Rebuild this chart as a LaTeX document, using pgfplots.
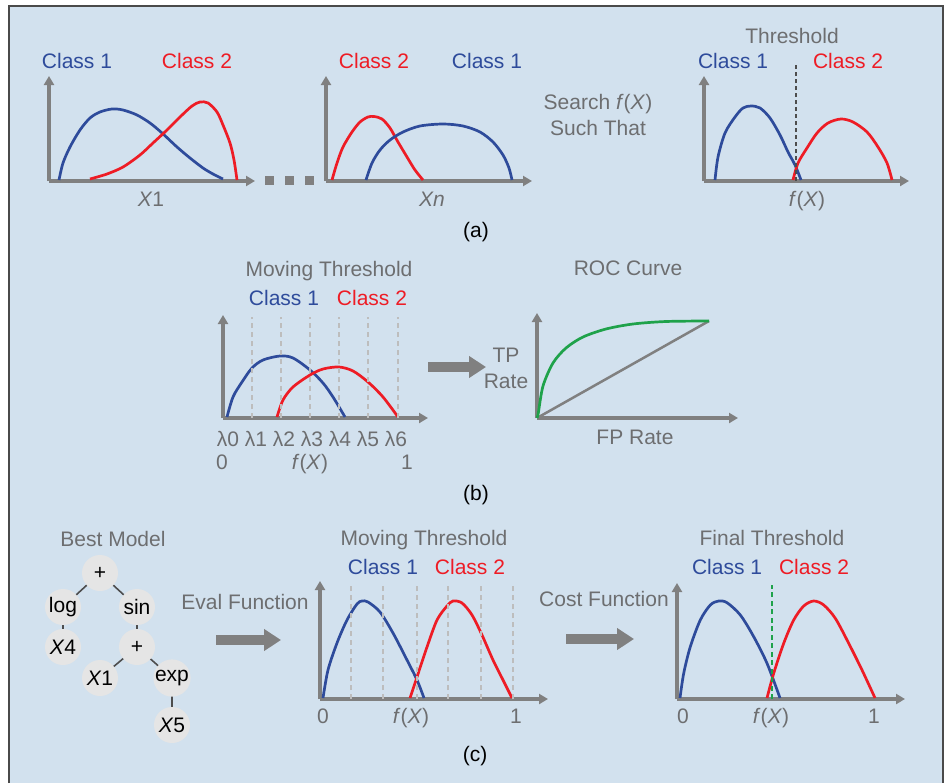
\documentclass[border=0pt]{standalone}
\usepackage{pgfplots}
\pgfplotsset{compat=1.18}
\usepackage{fontspec}
\setmainfont{Liberation Sans}
\usetikzlibrary{arrows.meta}
\definecolor{bgblue}{HTML}{D2E1EE}
\definecolor{bordergray}{HTML}{4A4A4A}
\definecolor{axgray}{HTML}{808080}
\definecolor{txtgray}{HTML}{6D6E70}
\definecolor{cblue}{HTML}{2E4B9B}
\definecolor{cred}{HTML}{EE1C25}
\definecolor{cgreen}{HTML}{1FA24A}
\definecolor{dashgray}{HTML}{BDBDBD}
\definecolor{thrgray}{HTML}{4D4D4D}
\definecolor{nodefill}{HTML}{E5E5E5}
\pgfplotsset{
  myax/.style={scale only axis, axis lines=left, xmin=0, ymin=0,
    xtick=\empty, ytick=\empty, clip=false, anchor=south west,
    axis line style={line width=4pt, axgray, -{Triangle[length=9pt,width=10pt]}}},
  bl/.style={cblue, line width=2.7pt, smooth, tension=0.5, no marks},
  rd/.style={cred, line width=2.7pt, smooth, tension=0.5, no marks},
  lgd/.style={dashgray, line width=2.6pt, dash pattern=on 5pt off 4pt, no marks},
}
\begin{document}
\begin{tikzpicture}[x=1pt,y=1pt,
  lbl/.style={inner sep=0pt, text height=15pt, text depth=0pt, font=\fontsize{21}{25}\selectfont},
  gl/.style={lbl, text=txtgray},
  bigarrow/.style={axgray, line width=10pt, -{Triangle[length=17pt,width=21pt]}}]
\fill[white] (0,0) rectangle (949,-783);
\fill[bgblue] (9,-6) rectangle (943,-783);
\draw[line width=1.6pt, bordergray] (9,-783) -- (9,-6) -- (943,-6) -- (943,-783);

% ---------------- (a) ----------------
\begin{axis}[myax, at={(49pt,-181pt)}, width=206pt, height=105pt, xmax=206, ymax=105]
\addplot[bl] coordinates {(10,1) (14,18) (21,34) (31,51) (41,63) (51,69) (63,72) (74,71) (88,66) (101,58) (113,48) (128,34) (141,23) (154,13) (164,7) (174,2)};
\addplot[rd] coordinates {(41,2) (58,7) (74,14) (91,26) (104,38) (118,51) (131,64) (143,75) (151,79) (159,78) (168,69) (174,56) (181,38) (185,21) (188,1)};
\end{axis}
\node[lbl, text=cblue] at (77,-61) {Class 1};
\node[lbl, text=cred] at (197,-61) {Class 2};
\node[gl] at (151,-199) {\textit{X}1};
\foreach \xx in {269,289,309} \fill[axgray] (\xx-4.5,-175.5) rectangle (\xx+4.5,-184.5);

\begin{axis}[myax, at={(326pt,-181pt)}, width=206pt, height=105pt, xmax=206, ymax=105]
\addplot[rd] coordinates {(6,1) (11,18) (17,34) (26,49) (34,59) (42,64) (48,64.5) (56,62) (64,53) (72,39) (81,24) (89,11) (97,1)};
\addplot[bl] coordinates {(40,1) (46,18) (54,31) (64,41) (77,49) (94,55) (117,57) (137,55) (154,49) (167,39) (177,26) (183,13) (186,1)};
\end{axis}
\node[lbl, text=cred] at (374,-61) {Class 2};
\node[lbl, text=cblue] at (487,-61) {Class 1};
\node[gl] at (432,-199) {\textit{Xn}};
\node[lbl] at (476,-230) {(a)};
\node[gl] at (598,-102) {Search \textit{f}(\textit{X})};
\node[gl] at (598,-128) {Such That};

\begin{axis}[myax, at={(704pt,-181pt)}, width=205pt, height=105pt, xmax=205, ymax=105]
\addplot[bl] coordinates {(11,1) (14,24) (21,48) (31,64) (39,73) (47,75) (56,73) (66,63) (76,46) (84,29) (91,16) (97,1)};
\addplot[rd] coordinates {(89,1) (94,18) (103,33) (113,48) (124,58) (137,62) (149,59) (163,49) (174,34) (183,18) (188,1)};
\addplot[thrgray, line width=2.5pt, dash pattern=on 4pt off 3pt, no marks] coordinates {(92,0) (92,118)};
\end{axis}
\node[gl] at (792,-36) {Threshold};
\node[lbl, text=cblue] at (733,-61) {Class 1};
\node[lbl, text=cred] at (848,-61) {Class 2};
\node[gl] at (807,-199) {\textit{f}(\textit{X})};

% ---------------- (b) ----------------
\begin{axis}[myax, at={(223pt,-418pt)}, width=205pt, height=103pt, xmax=205, ymax=103]
\addplot[bl] coordinates {(4,1) (10,21) (19,36) (29,50) (40,58) (57,62) (70,60) (87,48) (100,35) (110,21) (122,1)};
\addplot[rd] coordinates {(54,1) (60,18) (70,31) (87,43) (100,49) (116,51) (130,47) (145,36) (160,21) (175,1)};
\addplot[lgd] coordinates {(29,0) (29,101)};
\addplot[lgd] coordinates {(58,0) (58,101)};
\addplot[lgd] coordinates {(87,0) (87,101)};
\addplot[lgd] coordinates {(116,0) (116,101)};
\addplot[lgd] coordinates {(145,0) (145,101)};
\addplot[lgd] coordinates {(175,0) (175,101)};
\end{axis}
\node[gl] at (329,-269) {Moving Threshold};
\node[lbl, text=cblue] at (284,-298) {Class 1};
\node[lbl, text=cred] at (372,-298) {Class 2};
\node[gl] at (312,-439) {λ0 λ1 λ2 λ3 λ4 λ5 λ6};
\node[gl] at (222,-462) {0};
\node[gl] at (310,-462) {\textit{f}(\textit{X})};
\node[gl] at (407,-462) {1};
\draw[bigarrow] (428,-367) -- (486,-367);

\begin{axis}[myax, at={(537pt,-418pt)}, width=201pt, height=105pt, xmax=201, ymax=105]
\addplot[axgray, line width=2.5pt, no marks] coordinates {(0,0) (172,97)};
\addplot[cgreen, line width=2.7pt, smooth, tension=0.5, no marks] coordinates {(0,0) (1.3,5) (6,32) (16,55) (29,70) (46,81) (69,89) (96,94) (129,96.5) (172,97)};
\end{axis}
\node[gl] at (628,-268) {ROC Curve};
\node[gl] at (506,-355) {TP};
\node[gl] at (506,-381) {Rate};
\node[gl] at (635,-437) {FP Rate};
\node[lbl] at (476,-493) {(b)};

% ---------------- (c) ----------------
\node[gl] at (113,-539) {Best Model};
\draw[thrgray, line width=1.6pt] (100,-573) -- (63,-607) (100,-573) -- (137,-607)
  (63,-607) -- (63,-647) (137,-607) -- (137,-647)
  (137,-647) -- (100,-678) (137,-647) -- (172,-678) (172,-678) -- (172,-725);
\foreach \px/\py/\t in {100/573/+, 63/607/log, 137/607/sin, 63/647/\textit{X}4, 137/647/+, 100/678/\textit{X}1, 172/678/exp, 172/725/\textit{X}5}
  \node[circle, fill=nodefill, minimum size=36pt, inner sep=0pt, font=\fontsize{21}{25}\selectfont] at (\px,-\py) {\t};
\node[gl] at (245,-602) {Eval Function};
\draw[bigarrow] (216,-640) -- (281,-640);

\begin{axis}[myax, at={(320pt,-699pt)}, width=228pt, height=118pt, xmax=228, ymax=118]
\addplot[bl] coordinates {(3,1) (8,29) (17,56) (27,79) (37,95) (42,98) (48,97) (60,87) (73,66) (87,39) (97,19) (104,1)};
\addplot[rd] coordinates {(90,1) (97,22) (107,52) (117,79) (127,93) (133,98) (142,96) (152,84) (162,64) (173,39) (183,19) (192,1)};
\addplot[lgd] coordinates {(31,0) (31,114)};
\addplot[lgd] coordinates {(63,0) (63,114)};
\addplot[lgd] coordinates {(97,0) (97,114)};
\addplot[lgd] coordinates {(128,0) (128,114)};
\addplot[lgd] coordinates {(161,0) (161,114)};
\addplot[lgd] coordinates {(193,0) (193,114)};
\end{axis}
\node[gl] at (424,-538) {Moving Threshold};
\node[lbl, text=cblue] at (383,-567) {Class 1};
\node[lbl, text=cred] at (470,-567) {Class 2};
\node[gl] at (323,-716) {0};
\node[gl] at (411,-716) {\textit{f}(\textit{X})};
\node[gl] at (516,-716) {1};
\node[lbl] at (475,-754) {(c)};
\node[gl] at (604,-599) {Cost Function};
\draw[bigarrow] (566,-639) -- (634,-639);

\begin{axis}[myax, at={(677pt,-699pt)}, width=228pt, height=116pt, xmax=228, ymax=116]
\addplot[bl] coordinates {(3,1) (6.7,25.7) (13.3,52.3) (23.3,79) (33.3,94) (41.7,98) (50,96.3) (63.3,84) (76.7,62.3) (90,35.7) (103,1)};
\addplot[rd] coordinates {(90,1) (96.7,25.7) (106.7,55.7) (116.7,79) (126.7,93) (136.7,98) (146.7,94) (158.3,80.7) (171.7,55.7) (185,29) (198,1)};
\addplot[cgreen, line width=2.8pt, dash pattern=on 5pt off 3.5pt, no marks] coordinates {(95,0) (95,114)};
\end{axis}
\node[gl] at (772,-538) {Final Threshold};
\node[lbl, text=cblue] at (727,-567) {Class 1};
\node[lbl, text=cred] at (814,-567) {Class 2};
\node[gl] at (683,-716) {0};
\node[gl] at (771,-716) {\textit{f}(\textit{X})};
\node[gl] at (874,-716) {1};
\end{tikzpicture}
\end{document}
